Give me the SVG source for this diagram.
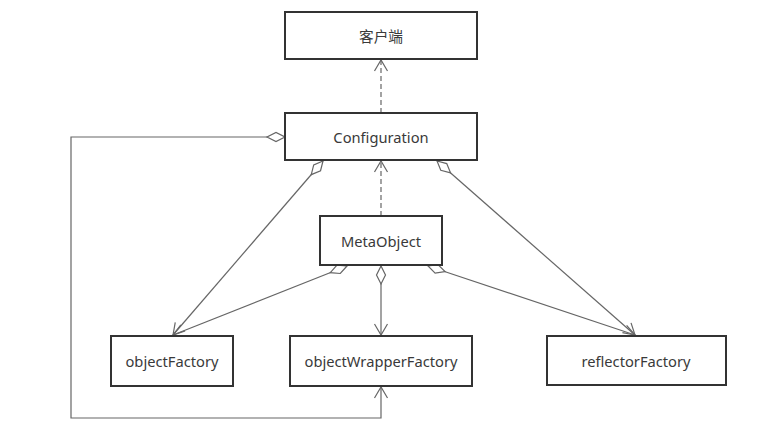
<svg xmlns="http://www.w3.org/2000/svg" width="779" height="434" viewBox="0 0 779 434">
<style>
.box{fill:#fff;stroke:#333;stroke-width:2}
.lbl{font-family:"Noto Sans","Open Sans","Noto Sans CJK SC",sans-serif;font-size:14.7px;fill:#3a3a3a;text-anchor:middle;dominant-baseline:central}
.ln{fill:none;stroke:#666;stroke-width:1.2}
.dash{stroke-dasharray:5,3}
</style>
<defs>
<marker id="dia" markerUnits="userSpaceOnUse" markerWidth="22" markerHeight="12" viewBox="-1 -6 22 12" refX="0" refY="0" orient="auto">
<path d="M0,0 L9,-4.5 L18,0 L9,4.5 Z" fill="#fff" stroke="#666" stroke-width="1.2"/>
</marker>
<marker id="arr" markerUnits="userSpaceOnUse" markerWidth="16" markerHeight="16" viewBox="-14 -8 16 16" refX="0" refY="0" orient="auto">
<path d="M-11,-6.5 L0,0 L-11,6.5" fill="none" stroke="#666" stroke-width="1.2"/>
</marker>
</defs>
<g id="connectors">
<path class="ln dash" d="M381,113 V60" marker-end="url(#arr)"/>
<path class="ln dash" d="M381,216 V161" marker-end="url(#arr)"/>
<path class="ln" d="M285,137 H71 V418 H381 V387" marker-start="url(#dia)" marker-end="url(#arr)"/>
<path class="ln" d="M323,161 L173,335" marker-start="url(#dia)" marker-end="url(#arr)"/>
<path class="ln" d="M347,266 L173,335" marker-start="url(#dia)" marker-end="url(#arr)"/>
<path class="ln" d="M381,266 V335" marker-start="url(#dia)" marker-end="url(#arr)"/>
<path class="ln" d="M428,266 L635,335" marker-start="url(#dia)" marker-end="url(#arr)"/>
<path class="ln" d="M437,161 L635,335" marker-start="url(#dia)" marker-end="url(#arr)"/>
</g>
<g id="client"><rect class="box" x="285" y="12" width="192" height="47"/><text class="lbl" x="381" y="36">客户端</text></g>
<g id="configuration"><rect class="box" x="285" y="113" width="192" height="47"/><text class="lbl" x="381" y="137">Configuration</text></g>
<g id="metaObject"><rect class="box" x="320" y="216" width="122" height="49"/><text class="lbl" x="381" y="241">MetaObject</text></g>
<g id="objectFactory"><rect class="box" x="111" y="336" width="122" height="50"/><text class="lbl" x="172" y="361">objectFactory</text></g>
<g id="objectWrapperFactory"><rect class="box" x="290" y="336" width="182" height="50"/><text class="lbl" x="381" y="361">objectWrapperFactory</text></g>
<g id="reflectorFactory"><rect class="box" x="547" y="336" width="179" height="49"/><text class="lbl" x="636" y="361">reflectorFactory</text></g>
</svg>
